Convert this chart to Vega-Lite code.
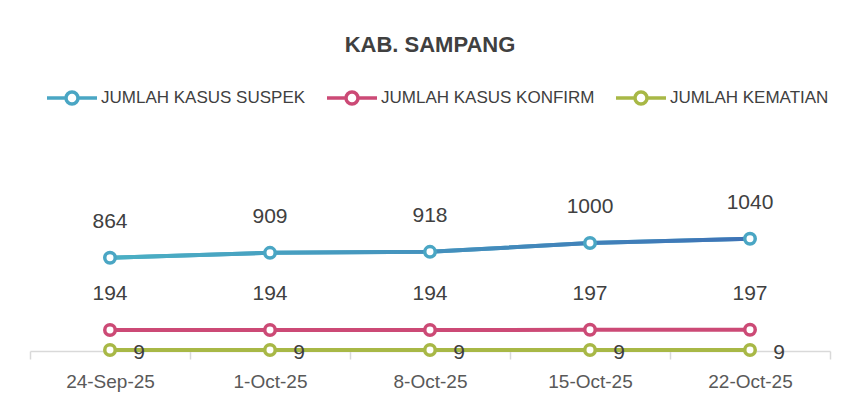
{
  "$schema": "https://vega.github.io/schema/vega-lite/v6.json",
  "autosize": {"type": "none"},
  "width": 800,
  "height": 216,
  "padding": {"left": 30, "top": 135, "right": 13, "bottom": 66},
  "background": "white",
  "title": {
    "text": "KAB. SAMPANG",
    "font": "Liberation Sans",
    "fontSize": 22,
    "fontWeight": "bold",
    "color": "#404040",
    "anchor": "middle",
    "offset": 14
  },
  "config": {
    "view": {"stroke": null},
    "font": "Liberation Sans"
  },
  "data": {
    "values": [
      {"date": "24-Sep-25", "series": "JUMLAH KASUS SUSPEK", "value": 864},
      {"date": "1-Oct-25", "series": "JUMLAH KASUS SUSPEK", "value": 909},
      {"date": "8-Oct-25", "series": "JUMLAH KASUS SUSPEK", "value": 918},
      {"date": "15-Oct-25", "series": "JUMLAH KASUS SUSPEK", "value": 1000},
      {"date": "22-Oct-25", "series": "JUMLAH KASUS SUSPEK", "value": 1040},
      {"date": "24-Sep-25", "series": "JUMLAH KASUS KONFIRM", "value": 194},
      {"date": "1-Oct-25", "series": "JUMLAH KASUS KONFIRM", "value": 194},
      {"date": "8-Oct-25", "series": "JUMLAH KASUS KONFIRM", "value": 194},
      {"date": "15-Oct-25", "series": "JUMLAH KASUS KONFIRM", "value": 197},
      {"date": "22-Oct-25", "series": "JUMLAH KASUS KONFIRM", "value": 197},
      {"date": "24-Sep-25", "series": "JUMLAH KEMATIAN", "value": 9},
      {"date": "1-Oct-25", "series": "JUMLAH KEMATIAN", "value": 9},
      {"date": "8-Oct-25", "series": "JUMLAH KEMATIAN", "value": 9},
      {"date": "15-Oct-25", "series": "JUMLAH KEMATIAN", "value": 9},
      {"date": "22-Oct-25", "series": "JUMLAH KEMATIAN", "value": 9}
    ]
  },
  "encoding": {
    "x": {
      "field": "date",
      "type": "nominal",
      "sort": null,
      "scale": {"type": "band", "paddingInner": 0, "paddingOuter": 0},
      "axis": {
        "title": null,
        "labelAngle": 0,
        "labelFontSize": 19,
        "labelColor": "#595959",
        "labelPadding": 13,
        "domainColor": "#D9D9D9",
        "domainWidth": 1.5,
        "tickColor": "#D9D9D9",
        "tickWidth": 1.5,
        "tickSize": 8,
        "tickBand": "extent",
        "grid": false
      }
    },
    "y": {
      "field": "value",
      "type": "quantitative",
      "scale": {"domain": [0, 2000]},
      "axis": null
    }
  },
  "layer": [
    {
      "mark": {"type": "line", "strokeWidth": 4},
      "encoding": {
        "color": {
          "field": "series",
          "type": "nominal",
          "scale": {
            "domain": ["JUMLAH KASUS SUSPEK", "JUMLAH KASUS KONFIRM", "JUMLAH KEMATIAN"],
            "range": ["#4AA6C4", "#CC4A76", "#A8B846"]
          },
          "legend": {
            "title": null,
            "orient": "none",
            "direction": "horizontal",
            "legendX": 15,
            "legendY": -64,
            "symbolType": "M-1,0L-0.24,0M0.24,0L1,0M0.24,0A0.24,0.24,0,1,1,-0.24,0A0.24,0.24,0,1,1,0.24,0Z",
            "symbolSize": 2500,
            "symbolStrokeWidth": 3.5,
            "symbolFillColor": "white",
            "labelFontSize": 17,
            "labelColor": "#404040",
            "labelOffset": 2,
            "columnPadding": 14,
            "labelLimit": 400,
            "encode": {"symbols": {"update": {"fill": {"value": "white"}}}}
          }
        }
      }
    },
    {
      "transform": [{"filter": "datum.series === 'JUMLAH KASUS SUSPEK'"}],
      "mark": {
        "type": "line",
        "strokeWidth": 4,
        "color": {
          "gradient": "linear",
          "x1": 0, "y1": 0, "x2": 1, "y2": 0,
          "stops": [
            {"offset": 0, "color": "#4BB0C4"},
            {"offset": 1, "color": "#3E72B6"}
          ]
        }
      }
    },
    {
      "mark": {"type": "point", "shape": "circle", "filled": true, "fill": "white", "size": 110, "strokeWidth": 3.5, "opacity": 1},
      "encoding": {
        "stroke": {
          "field": "series",
          "type": "nominal",
          "scale": {
            "domain": ["JUMLAH KASUS SUSPEK", "JUMLAH KASUS KONFIRM", "JUMLAH KEMATIAN"],
            "range": ["#4AA6C4", "#CC4A76", "#A8B846"]
          },
          "legend": null
        }
      }
    },
    {
      "transform": [{"filter": "datum.series !== 'JUMLAH KEMATIAN'"}],
      "mark": {"type": "text", "dy": -36, "fontSize": 21, "color": "#404040"},
      "encoding": {"text": {"field": "value", "type": "quantitative"}}
    },
    {
      "transform": [{"filter": "datum.series === 'JUMLAH KEMATIAN'"}],
      "mark": {"type": "text", "dx": 29, "dy": 3, "fontSize": 21, "color": "#404040"},
      "encoding": {"text": {"field": "value", "type": "quantitative"}}
    }
  ]
}
